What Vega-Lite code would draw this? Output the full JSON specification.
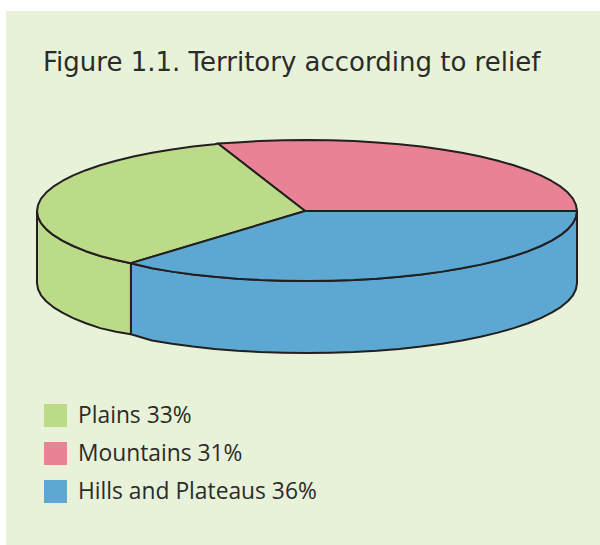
{"$schema":"https://vega.github.io/schema/vega-lite/v6.json","width":594,"height":534,"autosize":"none","padding":{"left":6,"top":11,"right":0,"bottom":0},"background":"#ffffff","view":{"fill":"#E8F2D8","stroke":null},
"title":{"text":"Figure 1.1. Territory according to relief","anchor":"start","orient":"top","frame":"group","offset":-86,"dx":37,"font":"DejaVu Sans","fontSize":26,"fontWeight":"normal","color":"#2b2b2b","baseline":"alphabetic"},
"datasets":{
"sides":[
{"slice":"Plains 33%","u":-1,"v":0,"v2":-1.03},{"slice":"Plains 33%","u":-0.996,"v":-0.087,"v2":-1.117},{"slice":"Plains 33%","u":-0.985,"v":-0.174,"v2":-1.204},{"slice":"Plains 33%","u":-0.966,"v":-0.259,"v2":-1.289},{"slice":"Plains 33%","u":-0.94,"v":-0.342,"v2":-1.372},{"slice":"Plains 33%","u":-0.906,"v":-0.423,"v2":-1.453},{"slice":"Plains 33%","u":-0.866,"v":-0.5,"v2":-1.53},{"slice":"Plains 33%","u":-0.819,"v":-0.574,"v2":-1.604},{"slice":"Plains 33%","u":-0.766,"v":-0.643,"v2":-1.673},{"slice":"Plains 33%","u":-0.707,"v":-0.7,"v2":-1.725},{"slice":"Plains 33%","u":-0.652,"v":-0.745,"v2":-1.76},
{"slice":"Hills and Plateaus 36%","u":-0.652,"v":-0.745,"v2":-1.76},{"slice":"Hills and Plateaus 36%","u":-0.574,"v":-0.819,"v2":-1.849},{"slice":"Hills and Plateaus 36%","u":-0.5,"v":-0.866,"v2":-1.896},{"slice":"Hills and Plateaus 36%","u":-0.423,"v":-0.906,"v2":-1.936},{"slice":"Hills and Plateaus 36%","u":-0.342,"v":-0.94,"v2":-1.97},{"slice":"Hills and Plateaus 36%","u":-0.259,"v":-0.966,"v2":-1.996},{"slice":"Hills and Plateaus 36%","u":-0.174,"v":-0.985,"v2":-2.015},{"slice":"Hills and Plateaus 36%","u":-0.087,"v":-0.996,"v2":-2.026},{"slice":"Hills and Plateaus 36%","u":0,"v":-1,"v2":-2.03},{"slice":"Hills and Plateaus 36%","u":0.087,"v":-0.996,"v2":-2.026},{"slice":"Hills and Plateaus 36%","u":0.174,"v":-0.985,"v2":-2.015},{"slice":"Hills and Plateaus 36%","u":0.259,"v":-0.966,"v2":-1.996},{"slice":"Hills and Plateaus 36%","u":0.342,"v":-0.94,"v2":-1.97},{"slice":"Hills and Plateaus 36%","u":0.423,"v":-0.906,"v2":-1.936},{"slice":"Hills and Plateaus 36%","u":0.5,"v":-0.866,"v2":-1.896},{"slice":"Hills and Plateaus 36%","u":0.574,"v":-0.819,"v2":-1.849},{"slice":"Hills and Plateaus 36%","u":0.643,"v":-0.766,"v2":-1.796},{"slice":"Hills and Plateaus 36%","u":0.707,"v":-0.707,"v2":-1.737},{"slice":"Hills and Plateaus 36%","u":0.766,"v":-0.643,"v2":-1.673},{"slice":"Hills and Plateaus 36%","u":0.819,"v":-0.574,"v2":-1.604},{"slice":"Hills and Plateaus 36%","u":0.866,"v":-0.5,"v2":-1.53},{"slice":"Hills and Plateaus 36%","u":0.906,"v":-0.423,"v2":-1.453},{"slice":"Hills and Plateaus 36%","u":0.94,"v":-0.342,"v2":-1.372},{"slice":"Hills and Plateaus 36%","u":0.966,"v":-0.259,"v2":-1.289},{"slice":"Hills and Plateaus 36%","u":0.985,"v":-0.174,"v2":-1.204},{"slice":"Hills and Plateaus 36%","u":0.996,"v":-0.087,"v2":-1.117},{"slice":"Hills and Plateaus 36%","u":1,"v":0,"v2":-1.03}],
"tops":[
{"slice":"Mountains 31%","i":0,"u":-0.007,"v":0},{"slice":"Mountains 31%","i":1,"u":1,"v":0},{"slice":"Mountains 31%","i":2,"u":0.996,"v":0.088},{"slice":"Mountains 31%","i":3,"u":0.985,"v":0.177},{"slice":"Mountains 31%","i":4,"u":0.966,"v":0.263},{"slice":"Mountains 31%","i":5,"u":0.94,"v":0.347},{"slice":"Mountains 31%","i":6,"u":0.906,"v":0.429},{"slice":"Mountains 31%","i":7,"u":0.866,"v":0.508},{"slice":"Mountains 31%","i":8,"u":0.819,"v":0.583},{"slice":"Mountains 31%","i":9,"u":0.766,"v":0.653},{"slice":"Mountains 31%","i":10,"u":0.707,"v":0.718},{"slice":"Mountains 31%","i":11,"u":0.643,"v":0.778},{"slice":"Mountains 31%","i":12,"u":0.574,"v":0.831},{"slice":"Mountains 31%","i":13,"u":0.5,"v":0.879},{"slice":"Mountains 31%","i":14,"u":0.423,"v":0.92},{"slice":"Mountains 31%","i":15,"u":0.342,"v":0.954},{"slice":"Mountains 31%","i":16,"u":0.259,"v":0.98},{"slice":"Mountains 31%","i":17,"u":0.174,"v":1.0},{"slice":"Mountains 31%","i":18,"u":0.087,"v":1.011},{"slice":"Mountains 31%","i":19,"u":0,"v":1.015},{"slice":"Mountains 31%","i":20,"u":-0.087,"v":1.011},{"slice":"Mountains 31%","i":21,"u":-0.174,"v":1.0},{"slice":"Mountains 31%","i":22,"u":-0.259,"v":0.98},{"slice":"Mountains 31%","i":23,"u":-0.33,"v":0.964},{"slice":"Mountains 31%","i":24,"u":-0.007,"v":0},
{"slice":"Plains 33%","i":0,"u":-0.007,"v":0},{"slice":"Plains 33%","i":1,"u":-0.33,"v":0.964},{"slice":"Plains 33%","i":2,"u":-0.342,"v":0.954},{"slice":"Plains 33%","i":3,"u":-0.423,"v":0.92},{"slice":"Plains 33%","i":4,"u":-0.5,"v":0.879},{"slice":"Plains 33%","i":5,"u":-0.574,"v":0.831},{"slice":"Plains 33%","i":6,"u":-0.643,"v":0.778},{"slice":"Plains 33%","i":7,"u":-0.707,"v":0.718},{"slice":"Plains 33%","i":8,"u":-0.766,"v":0.653},{"slice":"Plains 33%","i":9,"u":-0.819,"v":0.583},{"slice":"Plains 33%","i":10,"u":-0.866,"v":0.508},{"slice":"Plains 33%","i":11,"u":-0.906,"v":0.429},{"slice":"Plains 33%","i":12,"u":-0.94,"v":0.347},{"slice":"Plains 33%","i":13,"u":-0.966,"v":0.263},{"slice":"Plains 33%","i":14,"u":-0.985,"v":0.177},{"slice":"Plains 33%","i":15,"u":-0.996,"v":0.088},{"slice":"Plains 33%","i":16,"u":-1,"v":0},{"slice":"Plains 33%","i":17,"u":-0.996,"v":-0.087},{"slice":"Plains 33%","i":18,"u":-0.985,"v":-0.174},{"slice":"Plains 33%","i":19,"u":-0.966,"v":-0.259},{"slice":"Plains 33%","i":20,"u":-0.94,"v":-0.342},{"slice":"Plains 33%","i":21,"u":-0.906,"v":-0.423},{"slice":"Plains 33%","i":22,"u":-0.866,"v":-0.5},{"slice":"Plains 33%","i":23,"u":-0.819,"v":-0.574},{"slice":"Plains 33%","i":24,"u":-0.766,"v":-0.643},{"slice":"Plains 33%","i":25,"u":-0.707,"v":-0.7},{"slice":"Plains 33%","i":26,"u":-0.652,"v":-0.745},{"slice":"Plains 33%","i":27,"u":-0.007,"v":0},
{"slice":"Hills and Plateaus 36%","i":0,"u":-0.007,"v":0},{"slice":"Hills and Plateaus 36%","i":1,"u":-0.652,"v":-0.745},{"slice":"Hills and Plateaus 36%","i":2,"u":-0.574,"v":-0.819},{"slice":"Hills and Plateaus 36%","i":3,"u":-0.5,"v":-0.866},{"slice":"Hills and Plateaus 36%","i":4,"u":-0.423,"v":-0.906},{"slice":"Hills and Plateaus 36%","i":5,"u":-0.342,"v":-0.94},{"slice":"Hills and Plateaus 36%","i":6,"u":-0.259,"v":-0.966},{"slice":"Hills and Plateaus 36%","i":7,"u":-0.174,"v":-0.985},{"slice":"Hills and Plateaus 36%","i":8,"u":-0.087,"v":-0.996},{"slice":"Hills and Plateaus 36%","i":9,"u":0,"v":-1},{"slice":"Hills and Plateaus 36%","i":10,"u":0.087,"v":-0.996},{"slice":"Hills and Plateaus 36%","i":11,"u":0.174,"v":-0.985},{"slice":"Hills and Plateaus 36%","i":12,"u":0.259,"v":-0.966},{"slice":"Hills and Plateaus 36%","i":13,"u":0.342,"v":-0.94},{"slice":"Hills and Plateaus 36%","i":14,"u":0.423,"v":-0.906},{"slice":"Hills and Plateaus 36%","i":15,"u":0.5,"v":-0.866},{"slice":"Hills and Plateaus 36%","i":16,"u":0.574,"v":-0.819},{"slice":"Hills and Plateaus 36%","i":17,"u":0.643,"v":-0.766},{"slice":"Hills and Plateaus 36%","i":18,"u":0.707,"v":-0.707},{"slice":"Hills and Plateaus 36%","i":19,"u":0.766,"v":-0.643},{"slice":"Hills and Plateaus 36%","i":20,"u":0.819,"v":-0.574},{"slice":"Hills and Plateaus 36%","i":21,"u":0.866,"v":-0.5},{"slice":"Hills and Plateaus 36%","i":22,"u":0.906,"v":-0.423},{"slice":"Hills and Plateaus 36%","i":23,"u":0.94,"v":-0.342},{"slice":"Hills and Plateaus 36%","i":24,"u":0.966,"v":-0.259},{"slice":"Hills and Plateaus 36%","i":25,"u":0.985,"v":-0.174},{"slice":"Hills and Plateaus 36%","i":26,"u":0.996,"v":-0.087},{"slice":"Hills and Plateaus 36%","i":27,"u":1,"v":0},{"slice":"Hills and Plateaus 36%","i":28,"u":-0.007,"v":0}]},
"resolve":{"scale":{"fill":"shared"}},
"layer":[
{"data":{"name":"sides"},"mark":{"type":"area","stroke":"#231F20","strokeWidth":2,"strokeJoin":"round","opacity":1},
"encoding":{"x":{"field":"u","type":"quantitative","scale":{"domain":[-1.1148,1.0852],"nice":false,"zero":false},"axis":null},"y":{"field":"v","type":"quantitative","scale":{"domain":[-4.771,2.857],"nice":false,"zero":false},"axis":null},"y2":{"field":"v2"},"fill":{"field":"slice","type":"nominal","scale":{"domain":["Plains 33%","Mountains 31%","Hills and Plateaus 36%"],"range":["#BBDB88","#E98294","#5DA7D3"]},"legend":{"title":null,"orient":"none","legendX":38,"legendY":393,"symbolType":"square","symbolSize":529,"symbolStrokeWidth":0,"symbolOpacity":1,"rowPadding":14,"labelOffset":11,"labelFont":"Open Sans","labelFontSize":22.8,"labelColor":"#2b2b2b","labelLimit":400}}}},
{"data":{"name":"tops"},"mark":{"type":"line","stroke":"#231F20","strokeWidth":2,"strokeJoin":"round"},
"encoding":{"x":{"field":"u","type":"quantitative"},"y":{"field":"v","type":"quantitative"},"order":{"field":"i","type":"quantitative"},"fill":{"field":"slice","type":"nominal"}}}
]}
